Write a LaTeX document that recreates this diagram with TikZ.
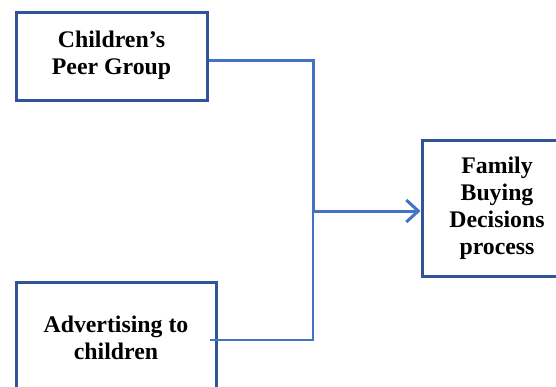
\documentclass[tikz,border=0pt]{standalone}
\usepackage{fontspec}
\setmainfont{Liberation Serif}
\usetikzlibrary{arrows.meta,calc}
\definecolor{boxblue}{HTML}{2F5597}
\definecolor{lineblue}{HTML}{4472C4}
\tikzset{txt/.style={font=\bfseries\fontsize{23.8}{27}\selectfont,align=center,inner sep=0pt}}
\begin{document}
\begin{tikzpicture}[x=1pt,y=-1pt,
  box/.style={draw=boxblue,line width=3pt,fill=white,inner sep=0pt},
  conn/.style={draw=lineblue,line width=3pt},
  thinconn/.style={draw=lineblue,line width=1.2pt}]
\useasboundingbox (0,0) rectangle (556,386);
\clip (0,0) rectangle (556,386);
\node[box,minimum width=191pt,minimum height=88pt] (peer) at (111.5,56) {};
\node[txt] (peert) at (111.5,55) {Children’s\\Peer Group};
\node[box,minimum width=200pt,minimum height=120pt] (adv) at (116,342) {};
\node[txt] (advt) at (116,338) {Advertising to\\children};
\node[box,minimum width=150pt,minimum height=136pt] (fam) at (497,208) {};
\node[txt] (famt) at (497,208) {Family\\Buying\\Decisions\\process};
\coordinate (j) at (313,211);
\coordinate (advs) at (210,340);
\draw[thinconn] (advs) -| (j);
\draw[conn,-{Straight Barb[length=12pt,width=22pt]}] (peer.east |- 0,60) -| (j) -- (fam.west |- j);
\end{tikzpicture}
\end{document}
